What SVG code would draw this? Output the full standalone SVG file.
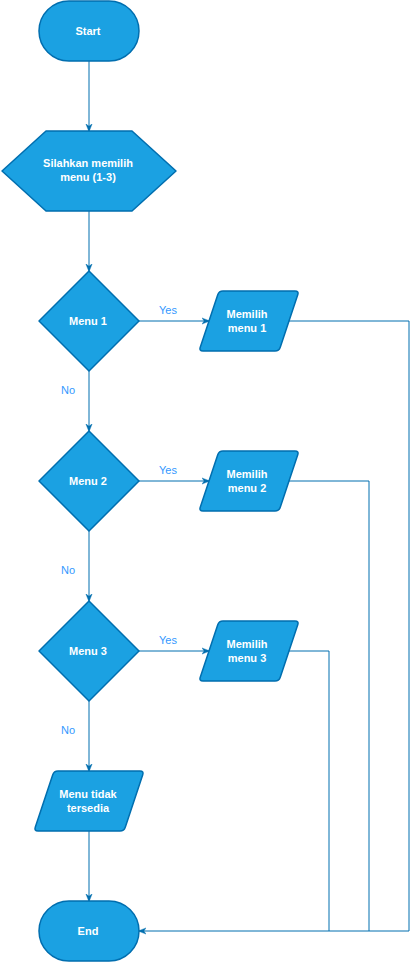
<svg xmlns="http://www.w3.org/2000/svg" xmlns:xlink="http://www.w3.org/1999/xlink" width="417" height="962" viewBox="0 0 417 962">
<style>
.shape{fill:#1ba1e2;stroke:#006eaf;stroke-width:1.5;stroke-linejoin:round}
.t{fill:#ffffff;font-family:"Liberation Sans",Arial,sans-serif;font-size:11px;font-weight:bold;text-anchor:middle}
.lbl{fill:#3399ff;font-family:"Liberation Sans",Arial,sans-serif;font-size:11px;text-anchor:middle}
.c{fill:none;stroke:#006eaf;stroke-width:1}
</style>
<defs>
<marker id="arr" viewBox="0 0 10 10" refX="9" refY="5" markerWidth="8" markerHeight="8" markerUnits="userSpaceOnUse" orient="auto">
<path d="M0,1 L10,5 L0,9 L3,5 Z" fill="#006eaf" stroke="#006eaf" stroke-width="0.5"/>
</marker>
<path id="para" d="M24,0 L96,0 Q100,0 98.74,3.79 L81.26,56.21 Q80,60 76,60 L4,60 Q0,60 1.26,56.21 L18.74,3.79 Q20,0 24,0 Z"/>
</defs>
<g id="connectors">
<path class="c" d="M89,61 L89,131" marker-end="url(#arr)"/>
<path class="c" d="M89,211 L89,271" marker-end="url(#arr)"/>
<path class="c" d="M89,371 L89,431" marker-end="url(#arr)"/>
<path class="c" d="M89,531 L89,601" marker-end="url(#arr)"/>
<path class="c" d="M89,701 L89,771" marker-end="url(#arr)"/>
<path class="c" d="M89,831 L89,901" marker-end="url(#arr)"/>
<path class="c" d="M139,321 L209,321" marker-end="url(#arr)"/>
<path class="c" d="M139,481 L209,481" marker-end="url(#arr)"/>
<path class="c" d="M139,651 L209,651" marker-end="url(#arr)"/>
<path class="c" d="M289,321 L409,321 L409,931 L139,931" marker-end="url(#arr)"/>
<path class="c" d="M289,481 L369,481 L369,931"/>
<path class="c" d="M289,651 L329,651 L329,931"/>
<text class="lbl" x="168" y="314">Yes</text>
<text class="lbl" x="168" y="474">Yes</text>
<text class="lbl" x="168" y="644">Yes</text>
<text class="lbl" x="68" y="394">No</text>
<text class="lbl" x="68" y="574">No</text>
<text class="lbl" x="68" y="734">No</text>
</g>
<g id="start">
<rect class="shape" x="39" y="1" width="100" height="60" rx="30" ry="30"/>
<text class="t" x="88" y="35">Start</text>
</g>
<g id="pilih">
<polygon class="shape" points="2,171 46,131 132,131 176,171 132,211 46,211"/>
<text class="t" x="88" y="167">Silahkan memilih</text>
<text class="t" x="88" y="181">menu (1-3)</text>
</g>
<g id="menu1">
<polygon class="shape" points="89,271 139,321 89,371 39,321"/>
<text class="t" x="88" y="325">Menu 1</text>
</g>
<g id="pilih1">
<use href="#para" class="shape" x="199" y="291"/>
<text class="t" x="247" y="318">Memilih</text>
<text class="t" x="247" y="332">menu 1</text>
</g>
<g id="menu2">
<polygon class="shape" points="89,431 139,481 89,531 39,481"/>
<text class="t" x="88" y="485">Menu 2</text>
</g>
<g id="pilih2">
<use href="#para" class="shape" x="199" y="451"/>
<text class="t" x="247" y="478">Memilih</text>
<text class="t" x="247" y="492">menu 2</text>
</g>
<g id="menu3">
<polygon class="shape" points="89,601 139,651 89,701 39,651"/>
<text class="t" x="88" y="655">Menu 3</text>
</g>
<g id="pilih3">
<use href="#para" class="shape" x="199" y="621"/>
<text class="t" x="247" y="648">Memilih</text>
<text class="t" x="247" y="662">menu 3</text>
</g>
<g id="tidak">
<path class="shape" d="M58,771 L140,771 Q144,771 142.74,774.79 L125.26,827.21 Q124,831 120,831 L38,831 Q34,831 35.26,827.21 L52.74,774.79 Q54,771 58,771 Z"/>
<text class="t" x="88" y="798">Menu tidak</text>
<text class="t" x="88" y="812">tersedia</text>
</g>
<g id="end">
<rect class="shape" x="39" y="901" width="100" height="60" rx="30" ry="30"/>
<text class="t" x="88" y="935">End</text>
</g>
</svg>
